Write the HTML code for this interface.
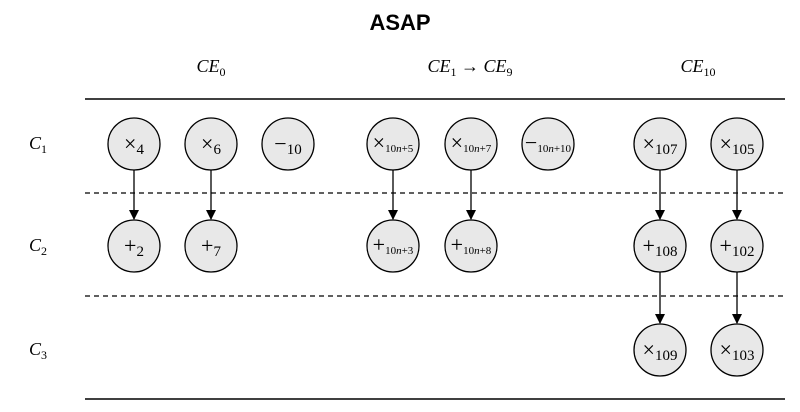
<!DOCTYPE html>
<html><head><style>body{margin:0;background:#fff}</style></head><body>
<svg width="800" height="407" xmlns="http://www.w3.org/2000/svg" font-family="Liberation Serif, serif">
<defs><marker id="a" markerWidth="10" markerHeight="10" refX="9" refY="5" orient="auto" markerUnits="userSpaceOnUse"><path d="M0,0 L10,5 L0,10 Z" fill="#000"/></marker></defs>
<text x="400" y="30" text-anchor="middle" font-family="Liberation Sans, sans-serif" font-weight="bold" font-size="22">ASAP</text>
<g font-size="18" font-style="italic" text-anchor="middle">
<text x="211" y="72">CE<tspan font-size="12" font-style="normal" dy="4">0</tspan></text>
<text x="470" y="72">CE<tspan font-size="12" font-style="normal" dy="4">1</tspan><tspan dy="-4" font-style="normal"> → </tspan>CE<tspan font-size="12" font-style="normal" dy="4">9</tspan></text>
<text x="698" y="72">CE<tspan font-size="12" font-style="normal" dy="4">10</tspan></text>
</g>
<g font-size="18" font-style="italic">
<text x="29" y="149">C<tspan font-size="12" font-style="normal" dy="4">1</tspan></text>
<text x="29" y="251">C<tspan font-size="12" font-style="normal" dy="4">2</tspan></text>
<text x="29" y="355">C<tspan font-size="12" font-style="normal" dy="4">3</tspan></text>
</g>
<line x1="85" y1="99" x2="785" y2="99" stroke="#000" stroke-width="1.5"/>
<line x1="85" y1="399" x2="785" y2="399" stroke="#000" stroke-width="1.5"/>
<line x1="85" y1="193" x2="785" y2="193" stroke="#000" stroke-width="1.2" stroke-dasharray="5,4"/>
<line x1="85" y1="296" x2="785" y2="296" stroke="#000" stroke-width="1.2" stroke-dasharray="5,4"/>
<g stroke="#000" stroke-width="1.3" marker-end="url(#a)">
<line x1="134" y1="170" x2="134" y2="219"/><line x1="211" y1="170" x2="211" y2="219"/>
<line x1="393" y1="170" x2="393" y2="219"/><line x1="471" y1="170" x2="471" y2="219"/>
<line x1="660" y1="170" x2="660" y2="219"/><line x1="737" y1="170" x2="737" y2="219"/>
<line x1="660" y1="272" x2="660" y2="323"/><line x1="737" y1="272" x2="737" y2="323"/>
</g>
<g fill="#e8e8e8" stroke="#000" stroke-width="1.3">
<circle cx="134" cy="144" r="26"/><circle cx="211" cy="144" r="26"/><circle cx="288" cy="144" r="26"/>
<circle cx="393" cy="144" r="26"/><circle cx="471" cy="144" r="26"/><circle cx="548" cy="144" r="26"/>
<circle cx="660" cy="144" r="26"/><circle cx="737" cy="144" r="26"/>
<circle cx="134" cy="246" r="26"/><circle cx="211" cy="246" r="26"/>
<circle cx="393" cy="246" r="26"/><circle cx="471" cy="246" r="26"/>
<circle cx="660" cy="246" r="26"/><circle cx="737" cy="246" r="26"/>
<circle cx="660" cy="350" r="26"/><circle cx="737" cy="350" r="26"/>
</g>
<g font-size="22" text-anchor="middle">
<text x="134" y="151">×<tspan font-size="15" dy="3">4</tspan></text>
<text x="211" y="151">×<tspan font-size="15" dy="3">6</tspan></text>
<text x="288" y="151">−<tspan font-size="15" dy="3">10</tspan></text>
<text x="393" y="150">×<tspan font-size="11" dy="2">10<tspan font-style="italic">n</tspan>+5</tspan></text>
<text x="471" y="150">×<tspan font-size="11" dy="2">10<tspan font-style="italic">n</tspan>+7</tspan></text>
<text x="548" y="150">−<tspan font-size="11" dy="2">10<tspan font-style="italic">n</tspan>+10</tspan></text>
<text x="660" y="151">×<tspan font-size="15" dy="3">107</tspan></text>
<text x="737" y="151">×<tspan font-size="15" dy="3">105</tspan></text>
<text x="134" y="253">+<tspan font-size="15" dy="3">2</tspan></text>
<text x="211" y="253">+<tspan font-size="15" dy="3">7</tspan></text>
<text x="393" y="252">+<tspan font-size="11" dy="2">10<tspan font-style="italic">n</tspan>+3</tspan></text>
<text x="471" y="252">+<tspan font-size="11" dy="2">10<tspan font-style="italic">n</tspan>+8</tspan></text>
<text x="660" y="253">+<tspan font-size="15" dy="3">108</tspan></text>
<text x="737" y="253">+<tspan font-size="15" dy="3">102</tspan></text>
<text x="660" y="357">×<tspan font-size="15" dy="3">109</tspan></text>
<text x="737" y="357">×<tspan font-size="15" dy="3">103</tspan></text>
</g>
</svg>
</body></html>
